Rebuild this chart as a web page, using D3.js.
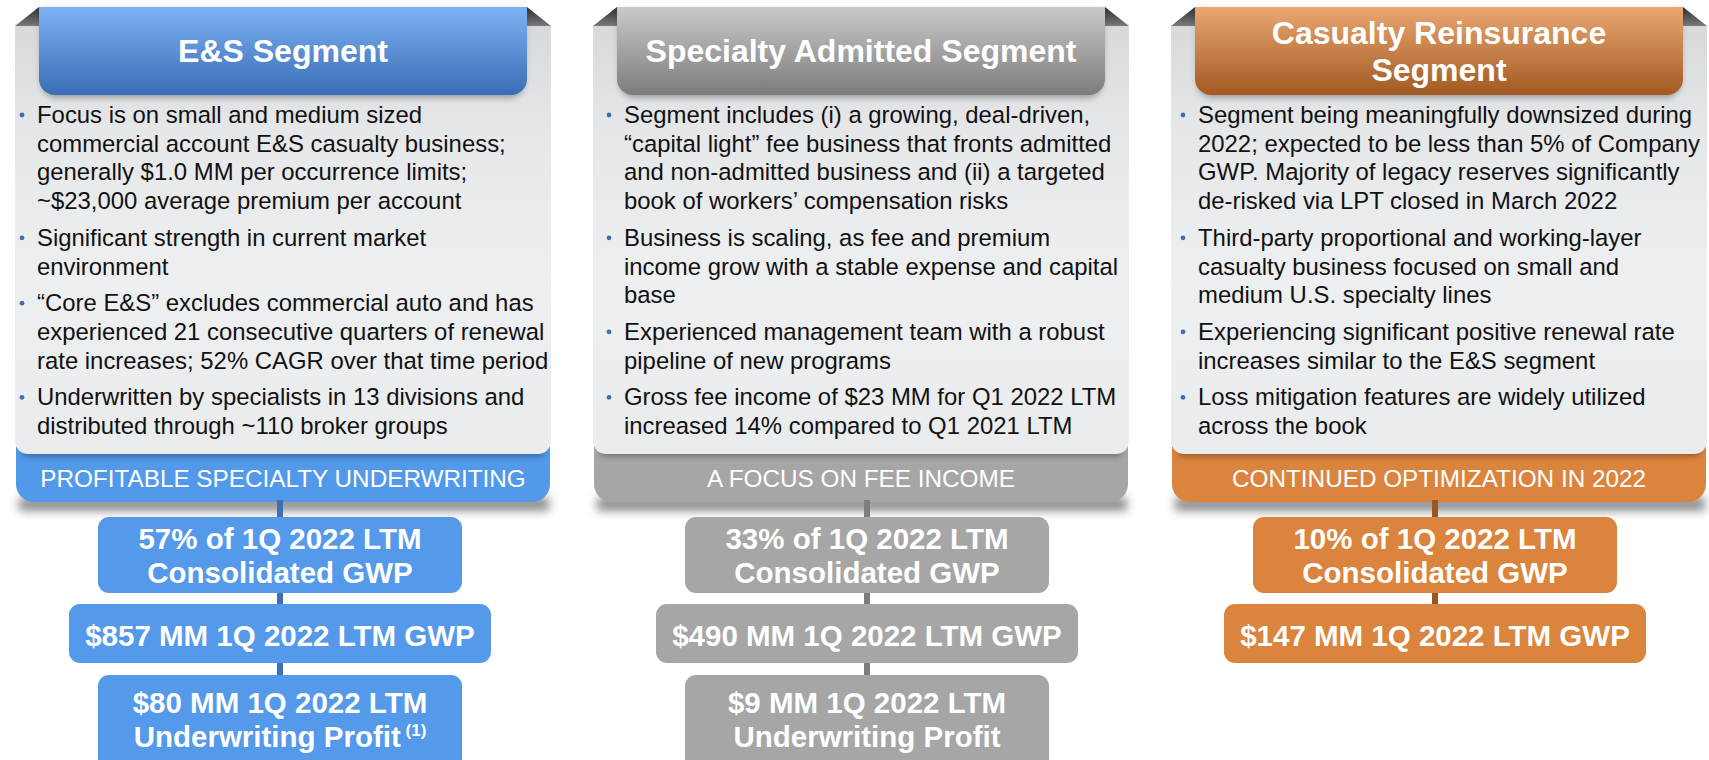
<!DOCTYPE html>
<html>
<head>
<meta charset="utf-8">
<script src="https://cdn.jsdelivr.net/npm/d3@7"></script>
<style>
html,body{margin:0;padding:0;background:#fff;}
svg{display:block;}
svg text{font-family:Arial,"Liberation Sans",Helvetica,sans-serif;}
</style>
</head>
<body>
<svg id="chart" width="1709" height="760"></svg>
<script>
// ---------------- DATA ----------------
const segments = ["E&S", "Specialty Admitted", "Casualty Reinsurance"];

const titleLines = [
  ["E&S Segment"],
  ["Specialty Admitted Segment"],
  ["Casualty Reinsurance", "Segment"]
];

const bulletsES = [
  ["Focus is on small and medium sized", "commercial account E&S casualty business;", "generally $1.0 MM per occurrence limits;", "~$23,000 average premium per account"],
  ["Significant strength in current market", "environment"],
  ["\u201cCore E&S\u201d excludes commercial auto and has", "experienced 21 consecutive quarters of renewal", "rate increases; 52% CAGR over that time period"],
  ["Underwritten by specialists in 13 divisions and", "distributed through ~110 broker groups"]
];
const bulletsSA = [
  ["Segment includes (i) a growing, deal-driven,", "\u201ccapital light\u201d fee business that fronts admitted", "and non-admitted business and (ii) a targeted", "book of workers\u2019 compensation risks"],
  ["Business is scaling, as fee and premium", "income grow with a stable expense and capital", "base"],
  ["Experienced management team with a robust", "pipeline of new programs"],
  ["Gross fee income of $23 MM for Q1 2022 LTM", "increased 14% compared to Q1 2021 LTM"]
];
const bulletsCR = [
  ["Segment being meaningfully downsized during", "2022; expected to be less than 5% of Company", "GWP. Majority of legacy reserves significantly", "de-risked via LPT closed in March 2022"],
  ["Third-party proportional and working-layer", "casualty business focused on small and", "medium U.S. specialty lines"],
  ["Experiencing significant positive renewal rate", "increases similar to the E&S segment"],
  ["Loss mitigation features are widely utilized", "across the book"]
];
const bullets = [bulletsES, bulletsSA, bulletsCR];

const footers = [
  "PROFITABLE SPECIALTY UNDERWRITING",
  "A FOCUS ON FEE INCOME",
  "CONTINUED OPTIMIZATION IN 2022"
];

const shareOfGWP = ["57%", "33%", "10%"];
const gwpMM = [857, 490, 147];
const uwProfitMM = [80, 9, null];
const uwFootnote = ["(1)", "", ""];

// ---------------- STYLE / LAYOUT ----------------
const palette = [
  {top:"#7CB2F3", bot:"#3A6DB5", band:"#5299E9", box:"#5499EA", conn:"#3B72B6"},
  {top:"#C9C9C9", bot:"#7C7C7C", band:"#A6A6A6", box:"#A6A6A6", conn:"#7D7D7D"},
  {top:"#EAA771", bot:"#A25922", band:"#DB843D", box:"#DA843E", conn:"#9E541E"}
];
const textInset = [22, 31, 27];
const boxShift = [-3, 6, -4];
const FONT_BULLET = 23.9, FONT_TITLE = 32, FONT_BAND = 24.3, FONT_BOX = 29.5;

// ---------------- BUILD ----------------
const svg = d3.select("#chart");

const x = d3.scaleBand().domain(segments).range([15, 1707]).paddingInner(0.0727).paddingOuter(0);
const bw = x.bandwidth();

const defs = svg.append("defs");
palette.forEach((p, i) => {
  const g = defs.append("linearGradient").attr("id", "hdr" + i).attr("x1", 0).attr("y1", 0).attr("x2", 0).attr("y2", 1);
  g.append("stop").attr("offset", "0%").attr("stop-color", p.top);
  g.append("stop").attr("offset", "100%").attr("stop-color", p.bot);
});
const bodyG = defs.append("linearGradient").attr("id", "bodyG").attr("x1", 0).attr("y1", 0).attr("x2", 0).attr("y2", 1);
bodyG.append("stop").attr("offset", "0%").attr("stop-color", "#D8D9DA");
bodyG.append("stop").attr("offset", "25%").attr("stop-color", "#E6E7E9");
bodyG.append("stop").attr("offset", "60%").attr("stop-color", "#EEEFF1");
bodyG.append("stop").attr("offset", "100%").attr("stop-color", "#E9EBED");
const cornerG = defs.append("linearGradient").attr("id", "cornerG").attr("x1", 0).attr("y1", 0).attr("x2", 0).attr("y2", 1);
cornerG.append("stop").attr("offset", "0%").attr("stop-color", "#2E2E2E");
cornerG.append("stop").attr("offset", "100%").attr("stop-color", "#7A7A7A");

const blur6 = defs.append("filter").attr("id", "blur6").attr("x", "-20%").attr("y", "-80%").attr("width", "140%").attr("height", "260%");
blur6.append("feGaussianBlur").attr("stdDeviation", 5);
const blur3 = defs.append("filter").attr("id", "blur3").attr("x", "-20%").attr("y", "-50%").attr("width", "140%").attr("height", "200%");
blur3.append("feGaussianBlur").attr("stdDeviation", 3);

function bottomRounded(x0, y0, w, h, r) {
  const p = d3.path();
  p.moveTo(x0, y0);
  p.lineTo(x0 + w, y0);
  p.lineTo(x0 + w, y0 + h - r);
  p.arcTo(x0 + w, y0 + h, x0 + w - r, y0 + h, r);
  p.lineTo(x0 + r, y0 + h);
  p.arcTo(x0, y0 + h, x0, y0 + h - r, r);
  p.closePath();
  return p.toString();
}

const LINE = 28.7, PARA = 8, FIRST = 123;
const boxY = [517, 604, 675], boxH = [76, 59, 100];

segments.forEach((seg, i) => {
  const pal = palette[i];
  const g = svg.append("g").attr("transform", `translate(${x(seg)},0)`);
  const cx = bw / 2;
  const bx = cx + boxShift[i];

  // shadow under footer band
  g.append("rect").attr("x", 4).attr("y", 497).attr("width", bw - 6).attr("height", 14)
    .attr("fill", "#444").attr("opacity", 0.6).attr("filter", "url(#blur6)");

  // footer band
  g.append("path").attr("d", bottomRounded(1, 420, bw - 2, 82, 18)).attr("fill", pal.band);

  // body shadow onto band
  g.append("rect").attr("x", 8).attr("y", 442).attr("width", bw - 16).attr("height", 14)
    .attr("fill", "#000").attr("opacity", 0.35).attr("filter", "url(#blur3)");

  // panel body
  g.append("path").attr("d", bottomRounded(0, 26, bw, 428, 13)).attr("fill", "url(#bodyG)");

  // fold corners
  g.append("path").attr("d", `M0,26 L24,7 L24,26 Z`).attr("fill", "url(#cornerG)");
  g.append("path").attr("d", `M${bw},26 L${bw - 24},7 L${bw - 24},26 Z`).attr("fill", "url(#cornerG)");

  // header tab shadow
  g.append("path").attr("d", bottomRounded(26, 10, bw - 52, 88, 16)).attr("fill", "#000")
    .attr("opacity", 0.3).attr("filter", "url(#blur3)");
  // header tab
  g.append("path").attr("d", bottomRounded(24, 7, bw - 48, 88, 16)).attr("fill", `url(#hdr${i})`);

  // title
  const tl = titleLines[i];
  const tBase = tl.length === 1 ? [62] : [44, 81];
  g.selectAll("text.title").data(tl).join("text").attr("class", "title")
    .attr("x", cx).attr("y", (d, k) => tBase[k])
    .attr("text-anchor", "middle").attr("fill", "#fff")
    .attr("font-weight", "bold").attr("font-size", FONT_TITLE).text(d => d);

  // bullets
  let yb = FIRST;
  const tx = textInset[i];
  bullets[i].forEach(lines => {
    g.append("circle").attr("cx", tx - 15).attr("cy", yb - 8).attr("r", 2.4).attr("fill", "#3F6FAE");
    lines.forEach(line => {
      g.append("text").attr("x", tx).attr("y", yb).attr("fill", "#111")
        .attr("font-size", FONT_BULLET).text(line);
      yb += LINE;
    });
    yb += PARA;
  });

  // footer text
  g.append("text").attr("x", cx).attr("y", 487).attr("text-anchor", "middle")
    .attr("fill", "#fff").attr("font-size", FONT_BAND).text(footers[i]);

  // metric boxes
  const boxes = [
    {lines: [`${shareOfGWP[i]} of 1Q 2022 LTM`, "Consolidated GWP"], w: 364, note: ""},
    {lines: [`$${gwpMM[i]} MM 1Q 2022 LTM GWP`], w: 422, note: ""}
  ];
  if (uwProfitMM[i] !== null) {
    boxes.push({lines: [`$${uwProfitMM[i]} MM 1Q 2022 LTM`, "Underwriting Profit"], w: 364, note: uwFootnote[i]});
  }

  // connector
  const lastIdx = boxes.length - 1;
  g.append("rect").attr("x", bx - 3).attr("y", 500).attr("width", 6)
    .attr("height", boxY[lastIdx] + 5 - 500).attr("fill", pal.conn);

  boxes.forEach((b, k) => {
    g.append("rect").attr("x", bx - b.w / 2).attr("y", boxY[k]).attr("width", b.w).attr("height", boxH[k])
      .attr("rx", 11).attr("fill", pal.box);
    const bases = b.lines.length === 1 ? [boxY[k] + 42] : [boxY[k] + 32, boxY[k] + 66];
    if (k === 2) { bases[0] = 713; bases[1] = 747; }
    b.lines.forEach((ln, m) => {
      const t = g.append("text").attr("x", bx).attr("y", bases[m]).attr("text-anchor", "middle")
        .attr("fill", "#fff").attr("font-weight", "bold").attr("font-size", FONT_BOX).text(ln);
      if (m === b.lines.length - 1 && b.note) {
        t.append("tspan").attr("font-size", 17).attr("dy", -11).text(" " + b.note);
      }
    });
  });
});
</script>
</body>
</html>
